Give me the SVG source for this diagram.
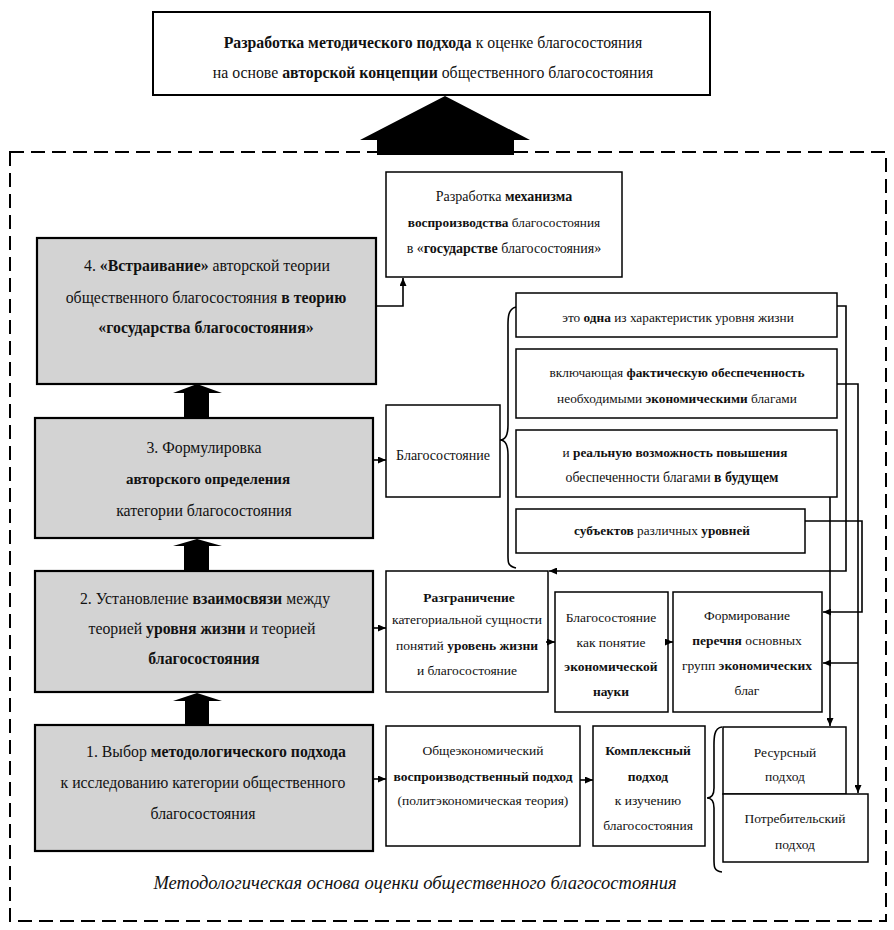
<svg xmlns="http://www.w3.org/2000/svg" width="894" height="930" viewBox="0 0 894 930">
<style>
.g{fill:#d3d3d3;stroke:#000;stroke-width:2.2}
.w{fill:#fff;stroke:#000;stroke-width:1.5}
text{font-family:"Liberation Serif","DejaVu Serif",serif;fill:#111;text-anchor:middle}
.t18{font-size:15.8px}
.t15{font-size:13.3px}
.t14{font-size:13.5px}
.b{font-weight:bold}
.ln{fill:none;stroke:#000;stroke-width:1.6}
.blk{fill:#000}
</style>
<defs>
<marker id="ah" viewBox="0 0 8 7" refX="8" refY="3.5" markerWidth="8" markerHeight="7" markerUnits="userSpaceOnUse" orient="auto">
<path d="M0,0 L8,3.5 L0,7 z" fill="#000"/>
</marker>
</defs>
<rect width="894" height="930" fill="#fff"/>
<rect x="10" y="152" width="876" height="769" fill="none" stroke="#000" stroke-width="2" stroke-dasharray="14,7"/>

<g id="top">
<rect class="w" x="153" y="12" width="557" height="83" style="stroke-width:2"/>
<text class="t18" x="433" y="48"><tspan class="b">Разработка методического подхода</tspan> к оценке благосостояния</text>
<text class="t18" x="433" y="78">на основе <tspan class="b">авторской концепции</tspan> общественного благосостояния</text>
</g>

<g id="block-arrows">
<polygon class="blk" points="445,96 530,140 514,140 514,155 377,155 377,140 360,140"/>
<polygon class="blk" points="184,418 184,393 173,393 197,384 222,393 209,393 209,418"/>
<polygon class="blk" points="184,571 184,546 173,546 197,539 222,546 209,546 209,571"/>
<polygon class="blk" points="185,725 185,701 173,701 197,693 222,701 209,701 209,725"/>
</g>

<g id="step4">
<rect class="g" x="37" y="238" width="339" height="146"/>
<text class="t18" x="207" y="271">4. <tspan class="b">«Встраивание»</tspan> авторской теории</text>
<text class="t18" x="206" y="303">общественного благосостояния <tspan class="b">в теорию</tspan></text>
<text class="t18 b" x="206" y="333">«государства благосостояния»</text>
</g>

<g id="step3">
<rect class="g" x="35" y="418" width="338" height="120"/>
<text class="t18" x="204" y="453">3. Формулировка</text>
<text class="t18 b" x="208" y="484" style="font-size:15px">авторского определения</text>
<text class="t18" x="204" y="516">категории благосостояния</text>
</g>

<g id="step2">
<rect class="g" x="35" y="571" width="338" height="121"/>
<text class="t18" x="205" y="604">2. Установление <tspan class="b">взаимосвязи</tspan> между</text>
<text class="t18" x="202" y="634">теорией <tspan class="b">уровня жизни</tspan> и теорией</text>
<text class="t18 b" x="204" y="664">благосостояния</text>
</g>

<g id="step1">
<rect class="g" x="35" y="725" width="338" height="126"/>
<text class="t18" x="216" y="757">1.  Выбор <tspan class="b">методологического подхода</tspan></text>
<text class="t18" x="203" y="788">к исследованию категории общественного</text>
<text class="t18" x="203" y="819">благосостояния</text>
</g>

<g id="mechanism">
<rect class="w" x="386" y="172" width="236" height="105"/>
<text class="t15" x="504" y="201" style="font-size:14px">Разработка <tspan class="b">механизма</tspan></text>
<text class="t15" x="504" y="227"><tspan class="b">воспроизводства</tspan> благосостояния</text>
<text class="t15" x="504" y="253" style="font-size:14px">в «<tspan class="b">государстве</tspan> благосостояния»</text>
</g>

<g id="welfare">
<rect class="w" x="386" y="405" width="114" height="92"/>
<text class="t15" x="443" y="460" style="font-size:14px">Благосостояние</text>
</g>

<g id="def1">
<rect class="w" x="516" y="293" width="321" height="44"/>
<text class="t15" x="678" y="322">это <tspan class="b">одна</tspan> из характеристик уровня жизни</text>
</g>
<g id="def2">
<rect class="w" x="516" y="349" width="321" height="69"/>
<text class="t15" x="677" y="377">включающая <tspan class="b">фактическую обеспеченность</tspan></text>
<text class="t15" x="677" y="403">необходимыми <tspan class="b">экономическими</tspan> благами</text>
</g>
<g id="def3">
<rect class="w" x="516" y="430" width="321" height="67"/>
<text class="t15" x="675" y="457">и <tspan class="b">реальную возможность повышения</tspan></text>
<text class="t15" x="672" y="482" style="font-size:13.8px">обеспеченности благами <tspan class="b">в будущем</tspan></text>
</g>
<g id="def4">
<rect class="w" x="516" y="509" width="289" height="44"/>
<text class="t15" x="662" y="535"><tspan class="b">субъектов</tspan> различных <tspan class="b">уровней</tspan></text>
</g>

<g id="distinction">
<rect class="w" x="386" y="571" width="162" height="121"/>
<text class="t14 b" x="469" y="602">Разграничение</text>
<text class="t14" x="467" y="624">категориальной сущности</text>
<text class="t14" x="467" y="650">понятий <tspan class="b">уровень жизни</tspan></text>
<text class="t14" x="467" y="675">и благосостояние</text>
</g>

<g id="concept">
<rect class="w" x="555" y="592" width="113" height="120"/>
<text class="t14" x="611" y="622">Благосостояние</text>
<text class="t14" x="611" y="647">как понятие</text>
<text class="t14 b" x="611" y="671">экономической</text>
<text class="t14 b" x="611" y="696">науки</text>
</g>

<g id="forming">
<rect class="w" x="673" y="592" width="149" height="120"/>
<text class="t14" x="747" y="620">Формирование</text>
<text class="t14" x="747" y="645"><tspan class="b">перечня</tspan> основных</text>
<text class="t14" x="747" y="670">групп <tspan class="b">экономических</tspan></text>
<text class="t14" x="747" y="695">благ</text>
</g>

<g id="general">
<rect class="w" x="386" y="726" width="194" height="120"/>
<text class="t14" x="483" y="755">Общеэкономический</text>
<text class="t14 b" x="483" y="781">воспроизводственный подход</text>
<text class="t14" x="483" y="805">(политэкономическая теория)</text>
</g>

<g id="complex">
<rect class="w" x="593" y="726" width="112" height="120"/>
<text class="t14 b" x="648" y="755">Комплексный</text>
<text class="t14 b" x="648" y="781">подход</text>
<text class="t14" x="648" y="805">к изучению</text>
<text class="t14" x="648" y="830">благосостояния</text>
</g>

<g id="resource">
<rect class="w" x="723" y="727" width="123" height="67"/>
<text class="t14" x="785" y="757">Ресурсный</text>
<text class="t14" x="785" y="781">подход</text>
</g>
<g id="consumer">
<rect class="w" x="723" y="794" width="145" height="68"/>
<text class="t14" x="795" y="823">Потребительский</text>
<text class="t14" x="795" y="849">подход</text>
</g>

<g id="caption">
<text x="415" y="889" style="font-size:18.5px;font-style:italic">Методологическая основа оценки общественного благосостояния</text>
</g>

<g id="connectors">
<path class="ln" d="M376,306 H403 V278" marker-end="url(#ah)"/>
<path class="ln" d="M373,460 H386" marker-end="url(#ah)"/>
<path class="ln" d="M373,628 H386" marker-end="url(#ah)"/>
<path class="ln" d="M373,779 H386" marker-end="url(#ah)"/>
<path class="ln" d="M580,780 H593" marker-end="url(#ah)"/>
<path class="ln" d="M546,642 H555" marker-end="url(#ah)"/>
<path class="ln" d="M666,642 H673" marker-end="url(#ah)"/>
<path class="ln" d="M837,306 H846 V571 H549" marker-end="url(#ah)"/>
<path class="ln" d="M837,384 H858 V793" marker-end="url(#ah)"/>
<path class="ln" d="M858,663 H823" marker-end="url(#ah)"/>
<path class="ln" d="M830,497 V726" marker-end="url(#ah)"/>
<path class="ln" d="M805,521 H862 V612 H823" marker-end="url(#ah)"/>
<path class="ln" d="M516,307 C507,309 508,320 508,330 L508,425 C508,435 505,440 500,440 C505,440 508,445 508,455 L508,552 C508,562 507,566 516,568"/>
<path class="ln" d="M722,727 C713,728 714,740 714,750 L714,788 C714,795 711,798 707,798 C711,798 714,801 714,808 L714,855 C714,866 713,871 722,872"/>
</g>
</svg>
